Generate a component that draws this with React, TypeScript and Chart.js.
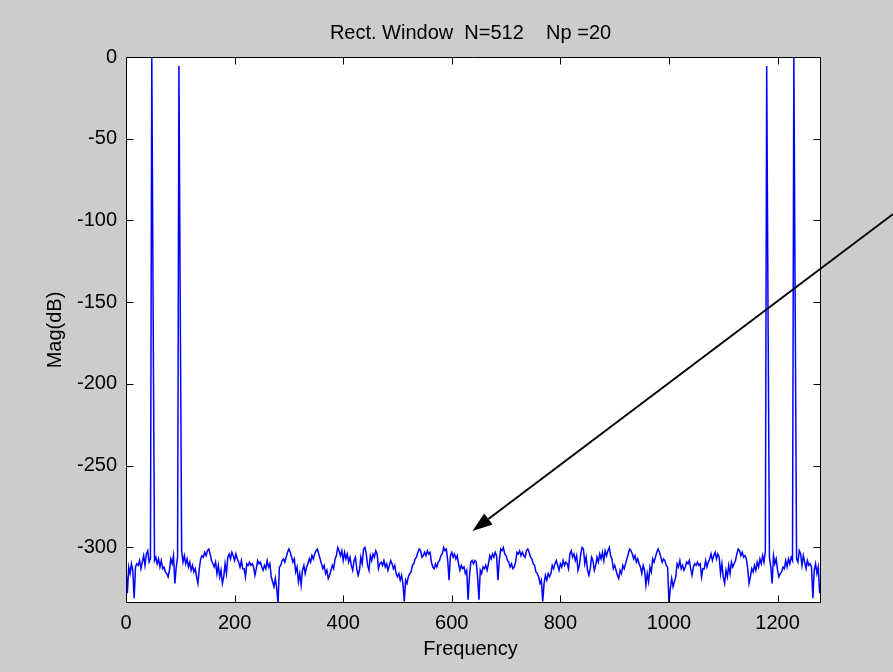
import React, { useEffect, useRef } from "react";
import { Chart, registerables } from "chart.js";

Chart.register(...registerables);

const TITLE = "Rect. Window  N=512    Np =20";
const X_LABEL = "Frequency";
const Y_LABEL = "Mag(dB)";

const X_TICKS = [0, 200, 400, 600, 800, 1000, 1200];
const Y_TICKS = [0, -50, -100, -150, -200, -250, -300];
const X_MIN = 0;
const X_MAX = 1280;
const Y_MIN = -334;
const Y_MAX = 0;

const BIN_WIDTH = 2.5; // Hz per FFT bin (1280 / 512)

// magnitude in dB for each of the 512 bins
const MAG_DB = [
  -313, -328, -312, -316, -310, -314, -331, -312, -310, -311,
  -308, -313, -309, -305, -311, -304, -302, -309, -307, 0,
  -155, -308, -306, -310, -307, -312, -308, -313, -312, -315,
  -316, -318, -314, -307, -310, -305, -322, -312, -306, -5.5,
  -158, -302, -309, -305, -310, -307, -312, -309, -314, -311,
  -315, -313, -318, -322, -313, -307, -305, -306, -303, -305,
  -302, -301, -304, -308, -310, -312, -309, -316, -311, -318,
  -314, -322, -318, -310, -316, -306, -304, -307, -303, -305,
  -308, -304, -307, -309, -312, -308, -313, -313, -318, -310,
  -311, -309, -311, -310, -312, -317, -313, -308, -310, -309,
  -312, -314, -311, -313, -308, -312, -310, -318, -321, -324,
  -319, -325, -334, -312, -311, -308, -307, -309, -306, -303,
  -301, -303, -306, -309, -307, -315, -312, -321, -316, -323,
  -314, -311, -316, -312, -310, -307, -309, -305, -307, -304,
  -302, -301, -304, -307, -310, -313, -311, -316, -314, -319,
  -317, -314, -311, -313, -307, -305, -300, -302, -305, -302,
  -308, -303, -307, -304, -309, -306, -311, -314, -308, -306,
  -313, -317, -314, -306, -310, -301, -300, -304, -311, -314,
  -305, -308, -304, -306, -302, -304, -313, -310, -309, -311,
  -308, -312, -310, -314, -311, -308, -310, -313, -311, -316,
  -318, -316, -320, -317, -322, -333, -320, -322, -318, -316,
  -315, -311, -310, -307, -306, -303, -301, -302, -306, -305,
  -303, -305, -302, -304, -303, -309, -312, -313, -310, -312,
  -309, -308, -305, -304, -300, -302, -301, -308, -320, -305,
  -303, -306, -304, -307, -305, -310, -314, -311, -313, -312,
  -316, -314, -332, -318, -309, -308, -310,
  -308, -309, -318, -332, -314, -316, -312, -313, -311, -314,
  -310, -305, -307, -304, -306, -303, -305, -320, -308, -301,
  -302, -300, -304, -305, -308, -309, -312, -310, -313, -312,
  -309, -303, -304, -302, -305, -303, -305, -306, -302, -301,
  -303, -306, -307, -310, -311, -315, -316, -318, -322, -320,
  -333, -322, -317, -320, -316, -318, -316, -311, -313, -310,
  -308, -311, -314, -310, -312, -308, -311, -309, -310, -313,
  -304, -302, -306, -304, -308, -305, -314, -311, -304, -300,
  -301, -310, -306, -314, -317, -313, -306, -308, -314, -311,
  -306, -309, -304, -307, -303, -308, -302, -305, -302, -300,
  -305, -307, -313, -311, -314, -317, -319, -314, -316, -311,
  -313, -310, -307, -304, -301, -302, -304, -307, -305, -309,
  -307, -310, -312, -316, -311, -314, -323, -316, -321, -312,
  -315, -307, -309, -306, -303, -301, -303, -306, -309, -307,
  -308, -311, -312, -334, -325, -319, -324, -321, -318, -310,
  -312, -308, -313, -311, -314, -312, -309, -310, -308, -313,
  -317, -312, -310, -311, -309, -311, -310, -318, -313, -313,
  -308, -312, -309, -307, -304, -308, -305, -303, -307, -304,
  -306, -316, -310, -318, -322, -314, -318, -311, -316, -309,
  -312, -310, -308, -304, -301, -302, -305, -303, -306, -305,
  -307, -313, -322, -318, -313, -315, -311, -314, -309, -312,
  -307, -310, -305, -309, -302, -5.5, -158, -306, -312, -322,
  -305, -310, -307, -314, -318, -316, -315, -312, -313, -308,
  -312, -307, -310, -306, -308, 0, -155, -307, -309, -302,
  -304, -311, -305, -309, -313, -308, -311, -310, -312, -331,
  -314, -310, -316, -312, -328,
];

const FREQ = MAG_DB.map((_, k) => k * BIN_WIDTH);

// annotation arrow, in data coordinates (tail lies outside the axes)
const ARROW_FROM = { x: 1413, y: -96 };
const ARROW_TO = { x: 638, y: -290 };

const FONT_FAMILY = "'Liberation Sans', Arial, Helvetica, sans-serif";
const FONT_SIZE = 20;
const FIG_BG = "#cccccc";
const LINE_COLOR = "#0000ff";

const matlabPlugin = {
  id: "matlabDecor",
  beforeDraw(chart: any) {
    const { ctx, chartArea: a } = chart;
    ctx.save();
    ctx.fillStyle = FIG_BG;
    ctx.fillRect(0, 0, chart.width, chart.height);
    ctx.fillStyle = "#ffffff";
    ctx.fillRect(a.left, a.top, a.right - a.left, a.bottom - a.top);
    ctx.restore();
  },
  afterDraw(chart: any) {
    const { ctx, chartArea: a, scales } = chart;
    const xs = scales.x;
    const ys = scales.y;
    const L = Math.round(a.left) + 0.5;
    const R = Math.round(a.right) - 0.5;
    const T = Math.round(a.top) + 0.5;
    const B = Math.round(a.bottom) - 0.5;
    const TL = 7;
    ctx.save();
    ctx.strokeStyle = "#000000";
    ctx.lineWidth = 1;
    ctx.beginPath();
    ctx.rect(L, T, R - L, B - T);
    for (const v of X_TICKS) {
      const px = Math.round(xs.getPixelForValue(v)) + 0.5;
      ctx.moveTo(px, B);
      ctx.lineTo(px, B - TL);
      ctx.moveTo(px, T);
      ctx.lineTo(px, T + TL);
    }
    for (const v of Y_TICKS) {
      const py = Math.round(ys.getPixelForValue(v)) + 0.5;
      ctx.moveTo(L, py);
      ctx.lineTo(L + TL, py);
      ctx.moveTo(R, py);
      ctx.lineTo(R - TL, py);
    }
    ctx.stroke();

    // title and axis labels
    ctx.fillStyle = "#000000";
    ctx.font = `${FONT_SIZE}px ${FONT_FAMILY}`;
    ctx.textAlign = "center";
    ctx.textBaseline = "middle";
    const cx = (a.left + a.right) / 2;
    ctx.fillText(TITLE, cx - 3, 33);
    ctx.fillText(X_LABEL, cx - 3, 649);
    ctx.save();
    ctx.translate(55, (a.top + a.bottom) / 2);
    ctx.rotate(-Math.PI / 2);
    ctx.fillText(Y_LABEL, 0, 0);
    ctx.restore();

    // arrow annotation
    const x1 = xs.getPixelForValue(ARROW_FROM.x);
    const y1 = ys.getPixelForValue(ARROW_FROM.y);
    const x2 = xs.getPixelForValue(ARROW_TO.x);
    const y2 = ys.getPixelForValue(ARROW_TO.y);
    const ang = Math.atan2(y2 - y1, x2 - x1);
    const headLen = 20;
    const headW = 7;
    const bx = x2 - headLen * Math.cos(ang);
    const by = y2 - headLen * Math.sin(ang);
    ctx.strokeStyle = "#000000";
    ctx.lineWidth = 2;
    ctx.beginPath();
    ctx.moveTo(x1, y1);
    ctx.lineTo(bx, by);
    ctx.stroke();
    ctx.fillStyle = "#000000";
    ctx.beginPath();
    ctx.moveTo(x2, y2);
    ctx.lineTo(bx + headW * Math.sin(ang), by - headW * Math.cos(ang));
    ctx.lineTo(bx - headW * Math.sin(ang), by + headW * Math.cos(ang));
    ctx.closePath();
    ctx.fill();
    ctx.restore();
  },
};

export default function App() {
  const canvasRef = useRef<HTMLCanvasElement | null>(null);

  useEffect(() => {
    document.body.style.margin = "0";
    const canvas = canvasRef.current;
    if (!canvas) return;
    const tickFont = { family: FONT_FAMILY, size: FONT_SIZE };
    const chart = new Chart(canvas, {
      type: "line",
      data: {
        datasets: [
          {
            data: FREQ.map((f, i) => ({ x: f, y: MAG_DB[i] })),
            borderColor: LINE_COLOR,
            borderWidth: 1.5,
            pointRadius: 0,
            tension: 0,
            fill: false,
          },
        ],
      },
      options: {
        animation: false,
        responsive: false,
        devicePixelRatio: 1,
        layout: { padding: { top: 57, right: 72, left: 0, bottom: 0 } },
        plugins: {
          legend: { display: false },
          tooltip: { enabled: false },
          title: { display: false },
        },
        scales: {
          x: {
            type: "linear",
            min: X_MIN,
            max: X_MAX,
            grid: { display: false, drawTicks: false },
            border: { display: false },
            ticks: {
              font: tickFont,
              color: "#000000",
              padding: 8,
              maxRotation: 0,
              autoSkip: false,
              callback: (v: any) => String(v),
            },
            afterBuildTicks: (s: any) => {
              s.ticks = X_TICKS.map((v) => ({ value: v }));
            },
            afterFit: (s: any) => {
              s.height = 69;
            },
          },
          y: {
            type: "linear",
            min: Y_MIN,
            max: Y_MAX,
            grid: { display: false, drawTicks: false },
            border: { display: false },
            ticks: {
              font: tickFont,
              color: "#000000",
              padding: 9,
              autoSkip: false,
              callback: (v: any) => String(v),
            },
            afterBuildTicks: (s: any) => {
              s.ticks = Y_TICKS.map((v) => ({ value: v }));
            },
            afterFit: (s: any) => {
              s.width = 126;
            },
          },
        },
      },
      plugins: [matlabPlugin],
    });
    return () => chart.destroy();
  }, []);

  return (
    <canvas
      ref={canvasRef}
      width={893}
      height={672}
      style={{ display: "block", width: 893, height: 672 }}
    />
  );
}
